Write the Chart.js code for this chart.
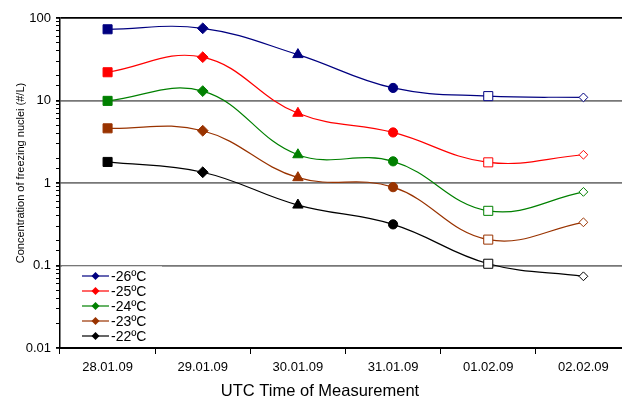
<!DOCTYPE html>
<html>
<head>
<meta charset="utf-8">
<script src="https://cdn.jsdelivr.net/npm/chart.js@4.4.0/dist/chart.umd.min.js"></script>
<style>
  body { margin: 0; overflow: hidden; background: #fff; }
  #wrap { width: 640px; height: 399px; }
</style>
</head>
<body>
<div id="wrap"><canvas id="fnChart" width="640" height="399"></canvas></div>
<script>
const categories = ["28.01.09", "29.01.09", "30.01.09", "31.01.09", "01.02.09", "02.02.09"];
const seriesLabels = ["-26ºC", "-25ºC", "-24ºC", "-23ºC", "-22ºC"];
const seriesColors = ["#000080", "#ff0000", "#008000", "#993300", "#000000"];
const xTitle = "UTC Time of Measurement";
const yTitle = "Concentration of freezing nuclei (#/L)";

const t26 = [73, 75, 36, 14.2, 11.3, 10.9];
const t25 = [22, 33.5, 7.0, 4.1, 1.78, 2.2];
const t24 = [9.9, 13, 2.2, 1.83, 0.46, 0.78];
const t23 = [4.6, 4.3, 1.16, 0.89, 0.206, 0.334];
const t22 = [1.8, 1.35, 0.54, 0.315, 0.105, 0.074];
const allSeries = [t26, t25, t24, t23, t22];

const markerStyles = ["rect", "rectRot", "triangle", "circle", "rect", "rectRot"];
const markerSizes = [6.4, 5.4, 6, 4.6, 6.4, 4.4];

const FONT = "'Liberation Sans', Arial, sans-serif";

function isMajor(v) {
  const l = Math.log10(v);
  return Math.abs(l - Math.round(l)) < 1e-6;
}

const datasets = allSeries.map((vals, i) => {
  const c = seriesColors[i];
  return {
    label: seriesLabels[i],
    data: vals,
    borderColor: c,
    borderWidth: 1.2,
    tension: 0.4,
    pointStyle: markerStyles,
    pointRadius: markerSizes,
    pointBorderWidth: 1,
    pointBorderColor: c,
    pointBackgroundColor: [c, c, c, c, "#ffffff", "#ffffff"],
  };
});

// legend inside the plot (bottom left) + axis titles where excel put them
const extras = {
  id: "extras",
  afterDraw(chart) {
    const ctx = chart.ctx;
    const a = chart.chartArea;
    ctx.save();
    ctx.fillStyle = "rgba(255,255,255,0.6)";
    ctx.fillRect(a.left + 2, a.bottom - 82, 100, 80);
    ctx.font = "14px " + FONT;
    ctx.textBaseline = "middle";
    chart.data.datasets.forEach((ds, i) => {
      const y = a.bottom - 72 + i * 15;
      ctx.strokeStyle = ds.borderColor;
      ctx.lineWidth = 1.2;
      ctx.beginPath();
      ctx.moveTo(a.left + 22, y);
      ctx.lineTo(a.left + 49, y);
      ctx.stroke();
      ctx.fillStyle = ds.borderColor;
      ctx.beginPath();
      ctx.moveTo(a.left + 35.5, y - 4);
      ctx.lineTo(a.left + 39.5, y);
      ctx.lineTo(a.left + 35.5, y + 4);
      ctx.lineTo(a.left + 31.5, y);
      ctx.closePath();
      ctx.fill();
      ctx.fillStyle = "#000";
      ctx.fillText(ds.label, a.left + 51, y + 1);
    });

    ctx.fillStyle = "#000";
    ctx.textAlign = "center";
    ctx.textBaseline = "alphabetic";
    ctx.font = "16.5px " + FONT;
    ctx.fillText(xTitle, 320, 396);

    ctx.translate(24, 173);
    ctx.rotate(-Math.PI / 2);
    ctx.font = "11px " + FONT;
    ctx.fillText(yTitle, 0, 0);
    ctx.restore();
  },
};

const config = {
  type: "line",
  data: { labels: categories, datasets: datasets },
  plugins: [extras],
  options: {
    responsive: false,
    animation: false,
    layout: { padding: { top: 18, right: 9, left: 0, bottom: 0 } },
    scales: {
      x: {
        type: "category",
        offset: true,
        afterFit: (s) => { s.height = 51; },
        grid: {
          offset: true,
          drawOnChartArea: false,
          tickLength: 6,
          color: "#000",
          lineWidth: 1,
        },
        border: { color: "#000", width: 2 },
        ticks: {
          color: "#000",
          padding: 6,
          font: { size: 13, family: FONT },
        },
      },
      y: {
        type: "logarithmic",
        min: 0.01,
        max: 100,
        afterFit: (s) => { s.width = 60; },
        grid: {
          tickLength: 4,
          color: (ctx) => {
            const v = ctx.tick && ctx.tick.value;
            if (!v || !isMajor(v)) return "rgba(0,0,0,0)";
            if (v > 50) return "#000";
            if (v < 0.02) return "rgba(0,0,0,0)";
            return "#777777";
          },
          tickColor: "#000",
          lineWidth: (ctx) => {
            const v = ctx.tick && ctx.tick.value;
            return v && isMajor(v) ? 1.8 : 1;
          },
        },
        border: { color: "#000", width: 1.5 },
        ticks: {
          autoSkip: false,
          color: "#000",
          padding: 5,
          font: { size: 13, family: FONT },
          callback: (v) => (isMajor(v) ? String(Number(v.toPrecision(1))) : ""),
        },
      },
    },
    plugins: {
      legend: { display: false },
      tooltip: { enabled: false },
    },
  },
};

var fnChart = new Chart(document.getElementById("fnChart"), config);
</script>
</body>
</html>
